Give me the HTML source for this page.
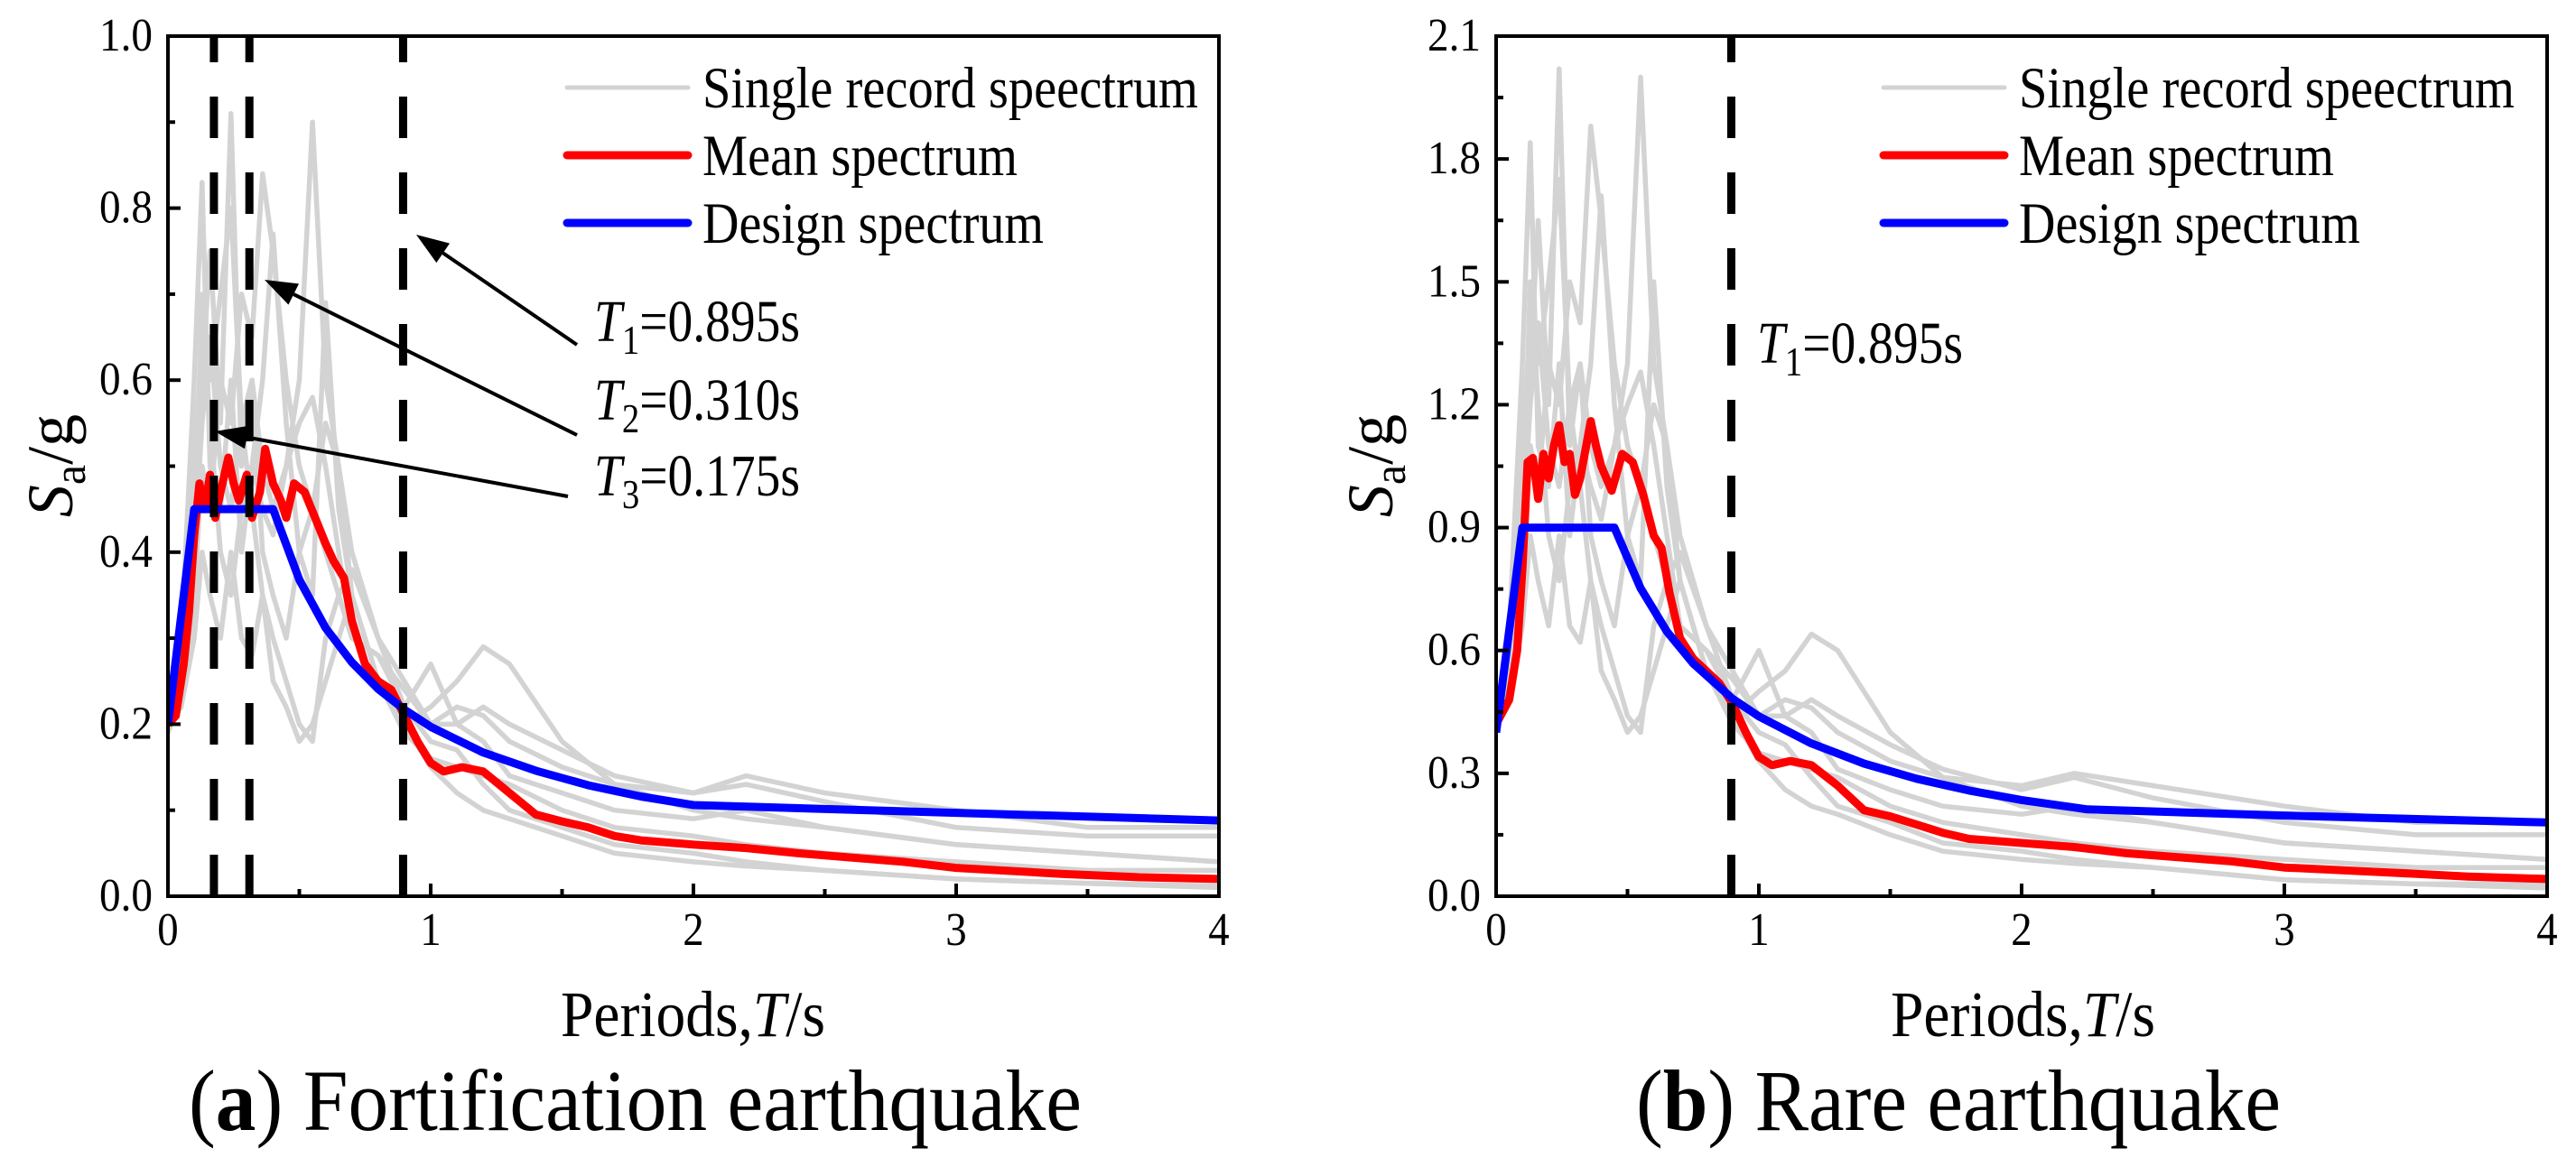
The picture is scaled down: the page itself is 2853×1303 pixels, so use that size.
<!DOCTYPE html>
<html><head><meta charset="utf-8"><style>
html,body{margin:0;padding:0;background:#fff;}
svg{display:block;font-family:"Liberation Serif",serif;}
</style></head><body>
<svg id="chart" width="2853" height="1303" viewBox="0 0 2853 1303" xmlns="http://www.w3.org/2000/svg"></svg>
<script>
// ---- shared data ----
const periodGrid = [0,0.05,0.1,0.13,0.16,0.2,0.24,0.28,0.32,0.36,0.4,0.45,0.5,0.55,0.6,0.65,0.7,0.8,0.9,1.0,1.1,1.2,1.3,1.5,1.7,2.0,2.2,2.5,3.0,3.5,4.0];
const xTickLabels = ["0","1","2","3","4"];
// ---- panel a ----
const recordsA1 = [0.19,0.3,0.6,0.83,0.5,0.45,0.6,0.4,0.5,0.45,0.42,0.5,0.6,0.9,0.6,0.5,0.35,0.25,0.2,0.22,0.25,0.29,0.27,0.18,0.13,0.12,0.14,0.12,0.1,0.08,0.08];
const recordsA2 = [0.2,0.25,0.45,0.6,0.75,0.55,0.91,0.5,0.6,0.4,0.35,0.3,0.4,0.45,0.4,0.35,0.3,0.28,0.22,0.27,0.2,0.18,0.14,0.12,0.1,0.09,0.1,0.08,0.06,0.05,0.04];
const recordsA3 = [0.2,0.22,0.35,0.5,0.45,0.6,0.55,0.7,0.65,0.84,0.75,0.6,0.5,0.45,0.55,0.5,0.4,0.3,0.25,0.2,0.22,0.21,0.18,0.15,0.13,0.1,0.09,0.08,0.06,0.05,0.04];
const recordsA4 = [0.19,0.23,0.4,0.7,0.55,0.4,0.35,0.45,0.5,0.6,0.77,0.55,0.4,0.35,0.69,0.45,0.35,0.25,0.19,0.16,0.15,0.14,0.13,0.1,0.08,0.07,0.06,0.05,0.04,0.03,0.03];
const recordsA5 = [0.2,0.22,0.3,0.4,0.35,0.3,0.4,0.3,0.28,0.35,0.3,0.25,0.2,0.18,0.3,0.35,0.38,0.3,0.22,0.18,0.17,0.13,0.1,0.08,0.06,0.05,0.04,0.03,0.02,0.015,0.01];
const recordsA6 = [0.21,0.25,0.5,0.65,0.6,0.7,0.8,0.55,0.45,0.35,0.25,0.22,0.18,0.2,0.25,0.3,0.35,0.25,0.2,0.15,0.12,0.1,0.09,0.07,0.05,0.04,0.035,0.03,0.02,0.015,0.012];
const recordsA7 = [0.2,0.24,0.4,0.55,0.65,0.5,0.45,0.55,0.6,0.5,0.45,0.5,0.55,0.58,0.5,0.4,0.3,0.28,0.24,0.2,0.2,0.22,0.2,0.17,0.14,0.12,0.13,0.11,0.08,0.07,0.07];
const meanPeriodsA = [0,0.03,0.06,0.08,0.1,0.12,0.14,0.16,0.18,0.2,0.23,0.25,0.27,0.3,0.32,0.35,0.37,0.4,0.43,0.45,0.48,0.52,0.56,0.6,0.63,0.67,0.7,0.75,0.8,0.85,0.9,0.95,1.0,1.05,1.12,1.2,1.3,1.4,1.5,1.6,1.7,1.8,2.0,2.2,2.4,2.6,2.8,3.0,3.4,3.7,4.0];
const meanValuesA = [0.2,0.21,0.27,0.33,0.42,0.48,0.45,0.49,0.44,0.47,0.51,0.48,0.46,0.49,0.44,0.47,0.52,0.48,0.46,0.44,0.48,0.47,0.44,0.41,0.39,0.37,0.32,0.27,0.25,0.24,0.21,0.18,0.155,0.145,0.15,0.145,0.12,0.095,0.087,0.08,0.07,0.065,0.06,0.056,0.05,0.045,0.04,0.033,0.026,0.022,0.02];
const designPeriodsA = [0,0.1,0.4,0.5,0.6,0.7,0.8,0.9,1.0,1.2,1.4,1.6,1.8,2.0,3.0,4.0];
const designValuesA = [0.2,0.45,0.45,0.368,0.312,0.272,0.241,0.217,0.197,0.167,0.146,0.129,0.116,0.106,0.097,0.088];
const yTickLabelsA = ["0.0","0.2","0.4","0.6","0.8","1.0"];
const markPeriodsA = [0.175,0.31,0.895];
// ---- panel b ----
const recordsB1 = [0.41,0.65,1.3,1.84,1.1,1.0,1.3,0.88,1.1,1.0,0.92,1.1,1.3,2.0,1.3,1.1,0.77,0.55,0.44,0.5,0.55,0.64,0.6,0.4,0.29,0.27,0.3,0.27,0.22,0.18,0.18];
const recordsB2 = [0.43,0.55,1.0,1.3,1.65,1.2,2.02,1.1,1.3,0.88,0.77,0.66,0.88,1.0,0.88,0.77,0.66,0.6,0.48,0.6,0.44,0.4,0.31,0.26,0.22,0.2,0.22,0.18,0.13,0.11,0.09];
const recordsB3 = [0.43,0.48,0.77,1.1,1.0,1.3,1.2,1.5,1.4,1.88,1.65,1.3,1.1,1.0,1.2,1.1,0.88,0.66,0.55,0.44,0.48,0.46,0.4,0.33,0.29,0.22,0.2,0.18,0.13,0.11,0.09];
const recordsB4 = [0.41,0.5,0.88,1.5,1.2,0.88,0.77,1.0,1.1,1.3,1.71,1.2,0.88,0.77,1.5,1.0,0.77,0.55,0.42,0.35,0.33,0.31,0.29,0.22,0.18,0.15,0.13,0.11,0.09,0.07,0.07];
const recordsB5 = [0.43,0.48,0.66,0.88,0.77,0.66,0.88,0.66,0.62,0.77,0.66,0.55,0.44,0.4,0.66,0.77,0.84,0.66,0.48,0.4,0.37,0.29,0.22,0.18,0.13,0.11,0.09,0.07,0.04,0.03,0.02];
const recordsB6 = [0.45,0.55,1.1,1.4,1.3,1.5,1.75,1.2,1.0,0.77,0.55,0.48,0.4,0.44,0.55,0.66,0.77,0.55,0.44,0.33,0.26,0.22,0.2,0.15,0.11,0.09,0.08,0.07,0.04,0.03,0.03];
const recordsB7 = [0.43,0.53,0.88,1.2,1.4,1.1,1.0,1.2,1.3,1.1,1.0,1.1,1.2,1.28,1.1,0.88,0.66,0.6,0.53,0.44,0.44,0.48,0.44,0.37,0.31,0.26,0.29,0.24,0.18,0.15,0.15];
const meanPeriodsB = [0,0.05,0.08,0.1,0.12,0.14,0.16,0.18,0.2,0.22,0.24,0.26,0.28,0.3,0.32,0.36,0.38,0.4,0.44,0.48,0.52,0.56,0.6,0.63,0.66,0.7,0.75,0.8,0.85,0.9,0.95,1.0,1.05,1.12,1.2,1.3,1.4,1.5,1.6,1.7,1.8,2.0,2.2,2.4,2.6,2.8,3.0,3.4,3.7,4.0];
const meanValuesB = [0.42,0.48,0.6,0.8,1.06,1.07,0.97,1.08,1.02,1.1,1.15,1.06,1.08,0.98,1.02,1.16,1.1,1.05,0.99,1.08,1.06,0.98,0.88,0.85,0.74,0.63,0.58,0.55,0.52,0.47,0.4,0.34,0.32,0.33,0.32,0.27,0.21,0.195,0.175,0.155,0.14,0.13,0.12,0.105,0.095,0.085,0.07,0.058,0.048,0.042];
const designPeriodsB = [0,0.1,0.45,0.55,0.65,0.75,0.9,1.0,1.2,1.4,1.6,1.8,2.0,2.25,3.0,4.0];
const designValuesB = [0.4,0.9,0.9,0.752,0.646,0.568,0.482,0.439,0.373,0.324,0.287,0.258,0.235,0.212,0.197,0.18];
const yTickLabelsB = ["0.0","0.3","0.6","0.9","1.2","1.5","1.8","2.1"];
const markPeriodsB = [0.895];

const NS = "http://www.w3.org/2000/svg";
const svg = document.getElementById('chart');
function mk(tag, attrs, parent, text){
  const e = document.createElementNS(NS, tag);
  for (const k in attrs) e.setAttribute(k, attrs[k]);
  if (text !== undefined) e.textContent = text;
  (parent||svg).appendChild(e);
  return e;
}
const legendWidths = [549, 349, 378];
function panel(cfg){
  const L=cfg.left, R=cfg.left+1164, T=40, B=993;
  const xs = v => L + v/4*(R-L);
  const ys = v => B - v/cfg.ymax*(B-T);
  const g = mk('g', {});
  
  
  const clip = mk('clipPath', {id:'clip'+cfg.id}, g);
  mk('rect', {x:L, y:T, width:R-L, height:B-T}, clip);
  const plot = mk('g', {'clip-path':'url(#clip'+cfg.id+')'}, g);
  const path = (px, py) => px.map((p,i)=>(i?'L':'M')+xs(p).toFixed(1)+' '+ys(py[i]).toFixed(1)).join(' ');
  cfg.records.forEach((r,i)=>{
    const p = mk('path', {d:path(periodGrid, r), fill:'none', stroke:'#d3d3d3', 'stroke-width':5.5, 'stroke-linejoin':'round'}, plot);
    
    
  });
  const m = mk('path', {d:path(cfg.meanP, cfg.meanV), fill:'none', stroke:'#ff0000', 'stroke-width':9, 'stroke-linejoin':'round'}, plot);
  
  
  const d = mk('path', {d:path(cfg.desP, cfg.desV), fill:'none', stroke:'#0000ff', 'stroke-width':9, 'stroke-linejoin':'round'}, plot);
  
  
  cfg.marks.forEach(t=>{
    const l = mk('line', {x1:xs(t), x2:xs(t), y1:B, y2:T, stroke:'#000', 'stroke-width':9, 'stroke-dasharray':'46 38'}, g);
    
    
  });
  const f = mk('rect', {x:L, y:T, width:R-L, height:B-T, fill:'none', stroke:'#000', 'stroke-width':4}, g);
  
  
  xTickLabels.forEach((lab,i)=>{
    mk('line', {x1:xs(i), x2:xs(i), y1:B, y2:B-14, stroke:'#000','stroke-width':4}, g);
    if (i<4) mk('line', {x1:xs(i+0.5), x2:xs(i+0.5), y1:B, y2:B-8, stroke:'#000','stroke-width':4}, g);
    const t = mk('text', {x:xs(i), y:B+54, 'font-size':52, 'text-anchor':'middle', transform:`translate(${xs(i)},0) scale(0.9,1) translate(${-xs(i)},0)`}, g, lab);
    
    
  });
  const step = cfg.ymax/(cfg.yLabels.length-1);
  cfg.yLabels.forEach((lab,i)=>{
    const v = i*step;
    mk('line', {x1:L, x2:L+14, y1:ys(v), y2:ys(v), stroke:'#000','stroke-width':4}, g);
    if (i<cfg.yLabels.length-1) mk('line', {x1:L, x2:L+8, y1:ys(v+step/2), y2:ys(v+step/2), stroke:'#000','stroke-width':4}, g);
    const t = mk('text', {x:L-17, y:ys(v)+16, 'font-size':52, 'text-anchor':'end', textLength:59, lengthAdjust:'spacingAndGlyphs'}, g, lab);
    
    
  });
  const xt = mk('text', {x:cfg.xTitleX, y:1148, 'font-size':72, textLength:293, lengthAdjust:'spacingAndGlyphs'}, g);
  
  
  mk('tspan', {}, xt, 'Periods,');
  mk('tspan', {'font-style':'italic'}, xt, 'T');
  mk('tspan', {}, xt, '/s');
  const yt = mk('text', {x:0, y:0, 'font-size':72, 'text-anchor':'middle', transform:'translate('+(cfg.yTitleX)+',516) rotate(-90)'}, g);
  
  
  mk('tspan', {'font-style':'italic'}, yt, 'S');
  mk('tspan', {'font-size':50, dy:14}, yt, 'a');
  mk('tspan', {dy:-14}, yt, '/g');
  const cap = mk('text', {x:cfg.capX, y:1252, 'font-size':96, textLength:cfg.capW, lengthAdjust:'spacingAndGlyphs'}, g);
  
  
  mk('tspan', {}, cap, '(');
  mk('tspan', {'font-weight':'bold'}, cap, cfg.capLetter);
  mk('tspan', {}, cap, ') '+cfg.capText);
  const lg = mk('g', {}, g);
  
  
  const items = [['Single record speectrum','#d3d3d3',5],['Mean spectrum','#ff0000',9],['Design spectrum','#0000ff',9]];
  items.forEach((it,i)=>{
    const y = 97 + i*75;
    const e = mk('g', {}, lg);
    
    
    mk('line', {x1:cfg.legX, x2:cfg.legX+134, y1:y, y2:y, stroke:it[1], 'stroke-width':it[2], 'stroke-linecap':'round'}, e);
    mk('text', {x:cfg.legX+150, y:y+22, 'font-size':65, textLength:legendWidths[i], lengthAdjust:'spacingAndGlyphs'}, e, it[0]);
  });
  return {xs, ys, g};
}
panel({id:'a', name:'panel-a-fortification', left:186, ymax:1.0, records:[recordsA1,recordsA2,recordsA3,recordsA4,recordsA5,recordsA6,recordsA7],
  meanP:meanPeriodsA, meanV:meanValuesA, desP:designPeriodsA, desV:designValuesA, marks:markPeriodsA, yLabels:yTickLabelsA,
  xTitleX:621, yTitleX:80, capX:209, capW:989, capLetter:'a', capText:'Fortification earthquake', legX:628});
panel({id:'b', name:'panel-b-rare', left:1657, ymax:2.1, records:[recordsB1,recordsB2,recordsB3,recordsB4,recordsB5,recordsB6,recordsB7],
  meanP:meanPeriodsB, meanV:meanValuesB, desP:designPeriodsB, desV:designValuesB, marks:markPeriodsB, yLabels:yTickLabelsB,
  xTitleX:2094, yTitleX:1542, capX:1812, capW:714, capLetter:'b', capText:'Rare earthquake', legX:2086});

function arrow(x1,y1,x2,y2){
  const a = mk('g', {});
  
  
  const ang = Math.atan2(y2-y1, x2-x1), hl=36, hw=13;
  const bx = x2 - hl*Math.cos(ang), by = y2 - hl*Math.sin(ang);
  mk('line', {x1:x1, y1:y1, x2:bx, y2:by, stroke:'#000', 'stroke-width':4}, a);
  const px = -Math.sin(ang)*hw, py = Math.cos(ang)*hw;
  mk('polygon', {points:`${x2},${y2} ${bx+px},${by+py} ${bx-px},${by-py}`, fill:'#000'}, a);
}
arrow(639,382,461,260);
arrow(639,482,293,310);
arrow(629,550,238,478);
function tlabel(x,y,sub,val){
  const t = mk('text', {x:x, y:y, 'font-size':66, textLength:228, lengthAdjust:'spacingAndGlyphs'});
  
  
  mk('tspan', {'font-style':'italic'}, t, 'T');
  mk('tspan', {'font-size':46, dy:14}, t, sub);
  mk('tspan', {dy:-14}, t, '='+val+'s');
}
tlabel(658,378,'1','0.895');
tlabel(658,465,'2','0.310');
tlabel(658,549,'3','0.175');
tlabel(1946,402,'1','0.895');
</script>
</body></html>
